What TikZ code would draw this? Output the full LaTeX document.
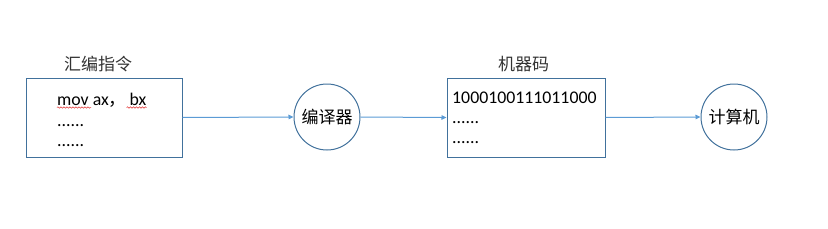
\documentclass[tikz,border=0pt]{standalone}
\usepackage{fontspec}
\setmainfont{Carlito}
\newfontfamily\cjk{Noto Sans CJK SC}
\usetikzlibrary{arrows.meta,decorations.pathmorphing}
\definecolor{boxblue}{HTML}{41719C}
\definecolor{lineblue}{HTML}{5B9BD5}
\definecolor{wavyred}{HTML}{E03030}
\tikzset{
  boxnode/.style={draw=boxblue,line width=1pt,minimum width=156pt,minimum height=79pt,inner sep=0pt},
  circnode/.style={circle,draw=boxblue,line width=1pt,minimum size=66pt,inner sep=0pt,font=\cjk\fontsize{17}{19}\selectfont},
  lbl/.style={font=\cjk\fontsize{17}{19}\selectfont,text=black!80,inner sep=0pt},
  txt/.style={font=\fontsize{17.8}{19}\selectfont,anchor=base west,inner sep=0pt},
  conn/.style={draw=lineblue,line width=1pt,-{Triangle[length=5pt,width=4.5pt]}},
  wavy/.style={draw=wavyred,line width=0.5pt,decorate,decoration={snake,amplitude=0.7pt,segment length=3pt}}
}
\begin{document}
\begin{tikzpicture}[x=1pt,y=-1pt]
\useasboundingbox (0,0) rectangle (828,228);
\node[boxnode] (asm) at (104,117.5) {};
\node[boxnode,minimum width=158pt] (mc) at (526,117.5) {};
\node[circnode] (cmp) at (327,117) {编译器};
\node[circnode] (pc) at (734,117) {计算机};
\node[lbl] (asmlbl) at (98,64.5) {汇编指令};
\node[lbl] (mclbl) at (523.5,64.5) {机器码};
\node[txt] (a1) at (57,105) {mov ax{\cjk ，}\,bx};
\node[txt] (a2) at (57,126) {......};
\node[txt] (a3) at (57,146.5) {......};
\node[txt] (b1) at (452,103) {1000100111011000};
\node[txt] (b2) at (452,123) {......};
\node[txt] (b3) at (452,143) {......};
\path[wavy] ([yshift=-2.5pt]a1.base west) -- ++(34,0);
\path[wavy] ([yshift=-2.5pt,xshift=-20pt]a1.base east) -- ++(20,0);
\draw[conn] (asm.east) -- (cmp.west);
\draw[conn] (cmp.east) -- (mc.west);
\draw[conn] (mc.east) -- (pc.west);
\end{tikzpicture}
\end{document}
